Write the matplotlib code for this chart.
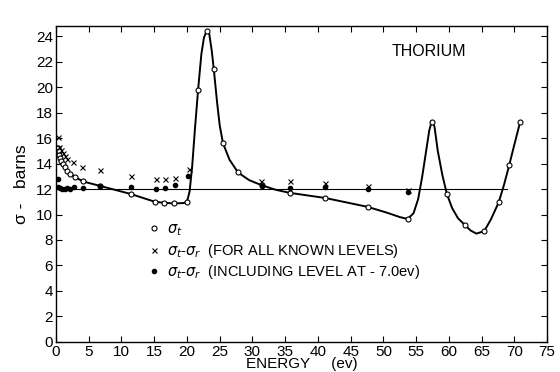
import matplotlib
matplotlib.use('Agg')
import matplotlib.pyplot as plt

plt.rcParams['font.family'] = ['Liberation Sans', 'DejaVu Sans']

# sigma_t measured points (open circles)
st_e = [0.35, 0.4, 0.5, 0.65, 0.8, 1.0, 1.3, 1.7, 2.2, 2.9, 4.1, 6.7, 11.5, 15.1, 16.5,
        18.0, 20.0, 21.7, 23.0, 24.1, 25.5, 27.8, 31.4, 35.7, 41.1, 47.6, 53.7, 57.4,
        59.7, 62.4, 65.4, 67.6, 69.2, 70.9]
st_s = [15.2, 14.95, 14.7, 14.45, 14.2, 13.95, 13.7, 13.45, 13.2, 12.95, 12.6, 12.25, 11.6,
        11.0, 10.92, 10.87, 11.0, 19.8, 24.4, 21.4, 15.6, 13.3, 12.3, 11.7, 11.3, 10.6, 9.65,
        17.3, 11.6, 9.2, 8.7, 10.95, 13.85, 17.3]

# smooth curve drawn through sigma_t
curve_e = [0.35, 0.5, 0.8, 1.3, 2.2, 2.9, 4.1, 6.7, 11.5, 15.1, 16.5, 18.0, 19.5, 20.0,
           20.4, 20.8, 21.2, 21.7, 22.2, 22.6, 23.0, 23.4, 23.8, 24.1, 24.6, 25.0, 25.5,
           26.5, 27.8, 29.5, 31.4, 33.5, 35.7, 41.1, 47.6, 50.5, 52.5, 53.7, 54.6, 55.3,
           55.9, 56.5, 57.0, 57.4, 57.8, 58.3, 59.0, 59.7, 60.5, 61.4, 62.4, 63.3, 64.2,
           65.4, 66.4, 67.6, 68.4, 69.2, 70.0, 70.9]
curve_s = [15.2, 14.7, 14.2, 13.7, 13.2, 12.95, 12.6, 12.25, 11.6, 11.0, 10.92, 10.87,
           10.9, 11.0, 11.8, 13.8, 16.6, 19.8, 22.6, 23.9, 24.4, 24.2, 22.8, 21.4, 18.8,
           17.0, 15.6, 14.3, 13.3, 12.7, 12.3, 11.95, 11.7, 11.3, 10.6, 10.15, 9.8, 9.65,
           10.1, 11.2, 12.9, 14.9, 16.6, 17.35, 16.9, 15.0, 13.1, 11.6, 10.5, 9.7, 9.2,
           8.75, 8.5, 8.7, 9.6, 10.95, 12.3, 13.85, 15.5, 17.3]

# sigma_t - sigma_r, all known levels (crosses)
x_e = [0.35, 0.5, 0.8, 1.1, 1.4, 1.7, 2.6, 4.0, 6.7, 11.5, 15.2, 16.6, 18.2, 20.3,
       31.3, 35.7, 41.1, 47.6, 53.7]
x_s = [16.1, 15.3, 15.1, 14.85, 14.6, 14.35, 14.1, 13.7, 13.5, 13.05, 12.75, 12.75, 12.9,
       13.6, 12.65, 12.63, 12.5, 12.27, 11.95]

# sigma_t - sigma_r, including level at -7.0 ev (dots)
d_e = [0.3, 0.3, 0.6, 0.9, 1.3, 1.7, 2.1, 2.7, 4.1, 6.7, 11.5, 15.2, 16.6, 18.2, 20.2,
       31.5, 35.7, 41.1, 47.6, 53.7]
d_s = [12.75, 12.15, 12.05, 12.0, 12.0, 12.05, 12.0, 12.15, 12.1, 12.25, 12.15, 12.0,
       12.1, 12.3, 13.05, 12.25, 12.1, 12.15, 12.0, 11.75]

potential = 12.0
potential_end = 68.8

fig = plt.figure(figsize=(5.6, 3.72), dpi=100)
ax = fig.add_axes([0.1, 0.081, 0.877, 0.849])

ax.plot([0.3, potential_end], [potential, potential], color='black', lw=0.8)
ax.plot(curve_e, curve_s, color='black', lw=1.4)
h1, = ax.plot(st_e, st_s, 'o', ms=3.6, mfc='white', mec='black', mew=0.8, ls='none')
h2, = ax.plot(x_e, x_s, 'x', ms=3.6, color='black', mew=0.8, ls='none')
h3, = ax.plot(d_e, d_s, 'o', ms=3.0, color='black', ls='none')

ax.set_xlim(0, 75)
ax.set_ylim(0, 24.8)
ax.set_xticks(range(0, 76, 5))
ax.set_yticks(range(0, 25, 2))
ax.tick_params(direction='in', top=True, right=True, labelsize=11, length=4,
               width=0.8, pad=2)
for s in ax.spines.values():
    s.set_linewidth(1.0)

ax.set_xlabel('ENERGY     (ev)', fontsize=11, labelpad=-1)
ax.set_ylabel('σ -   barns', fontsize=12.5, labelpad=5)

ax.text(57, 22.8, 'THORIUM', fontsize=11.5, ha='center', va='center')

ax.legend([h1, h2, h3],
          [r'$\sigma_t$',
           r'$\sigma_t$-$\sigma_r$  (FOR ALL KNOWN LEVELS)',
           r'$\sigma_t$-$\sigma_r$  (INCLUDING LEVEL AT - 7.0ev)'],
          loc='upper left', bbox_to_anchor=(0.16, 0.42), frameon=False,
          handlelength=0.8, handletextpad=0.5, labelspacing=0.25, fontsize=10.5)

fig.savefig('out.png', dpi=100)
